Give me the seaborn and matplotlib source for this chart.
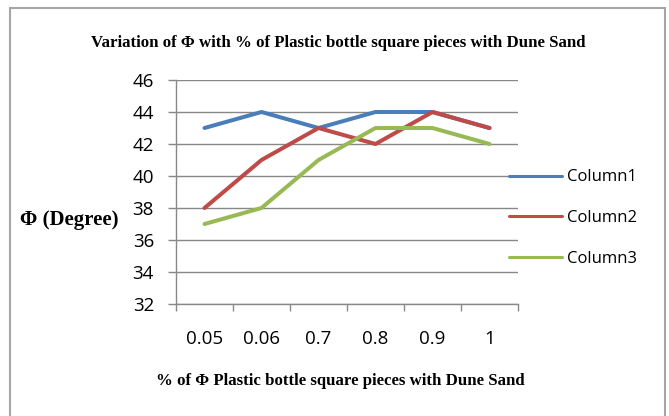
import matplotlib
matplotlib.use("Agg")
import matplotlib.pyplot as plt
import seaborn as sns
import pandas as pd
from matplotlib.patches import Rectangle
from matplotlib.ticker import FixedLocator

categories = ["0.05", "0.06", "0.7", "0.8", "0.9", "1"]
column1 = [43, 44, 43, 44, 44, 43]
column2 = [38, 41, 43, 42, 44, 43]
column3 = [37, 38, 41, 43, 43, 42]
series_names = ["Column1", "Column2", "Column3"]
colors = ["#4A7EBB", "#BE4B48", "#98B954"]
y_ticks = [32, 34, 36, 38, 40, 42, 44, 46]

sns.set_theme(style="white")
plt.rcParams["font.family"] = ["Open Sans", "DejaVu Sans"]
plt.rcParams["text.color"] = "black"
plt.rcParams["xtick.color"] = "black"
plt.rcParams["ytick.color"] = "black"

rows = []
for name, vals in zip(series_names, [column1, column2, column3]):
    for c, v in zip(categories, vals):
        rows.append({"x": c, "y": v, "series": name})
df = pd.DataFrame(rows)

fig = plt.figure(figsize=(6.69, 4.16), dpi=100)
W, H = 669, 416
ax = fig.add_axes([176 / W, 1 - 304 / H, (518 - 176) / W, (304 - 80) / H])

sns.lineplot(data=df, x="x", y="y", hue="series", palette=colors, sort=False,
             linewidth=2.9, ax=ax, legend=True)

ax.set_xlim(-0.5, 5.5)
ax.set_ylim(32, 46)
ax.set_yticks(y_ticks)
ax.set_xticks(range(len(categories)))
ax.set_xticklabels(categories)
ax.xaxis.set_minor_locator(FixedLocator([i - 0.5 for i in range(len(categories) + 1)]))
ax.tick_params(axis="x", which="major", length=0, pad=19, labelsize=13.5, labelcolor="black")
ax.tick_params(axis="x", which="minor", length=5, width=1, color="#888888", direction="out", bottom=True)
ax.tick_params(axis="y", which="major", length=5.8, width=1, color="#888888", direction="out", left=True,
               labelsize=13.5, pad=10, labelcolor="black")
ax.grid(axis="y", color="#888888", linewidth=1)
ax.set_axisbelow(True)
for s in ["top", "right"]:
    ax.spines[s].set_visible(False)
for s in ["left", "bottom"]:
    ax.spines[s].set_color("#888888")
    ax.spines[s].set_linewidth(1)
ax.set_xlabel("")
ax.set_ylabel("")

handles, labels = ax.get_legend_handles_labels()
ax.get_legend().remove()
leg = fig.legend(handles, labels, loc="center left", bbox_to_anchor=(509 / W, 1 - 218 / H),
                 frameon=False, fontsize=12, handlelength=3.2, handletextpad=0.3,
                 labelspacing=1.48, borderpad=0, borderaxespad=0)
for l in leg.get_lines():
    l.set_linewidth(2.2)

serif = dict(family=["Liberation Serif", "DejaVu Serif"], fontweight="bold", color="black")
fig.text(338 / W, 1 - 43 / H, "Variation of Φ with % of Plastic bottle square pieces with Dune Sand",
         ha="center", va="center", fontsize=12.1, **serif)
fig.text(69 / W, 1 - 220 / H, "Φ (Degree)", ha="center", va="center", fontsize=15, **serif)
fig.text(340 / W, 1 - 381 / H, "% of Φ Plastic bottle square pieces with Dune Sand",
         ha="center", va="center", fontsize=12.1, **serif)

fig.patches.append(Rectangle((10 / W, -0.05), (665 - 10) / W, 1.05 - 8 / H, transform=fig.transFigure,
                             fill=False, edgecolor="#A6A6A6", linewidth=1.5))

fig.savefig("out.png", dpi=100)
